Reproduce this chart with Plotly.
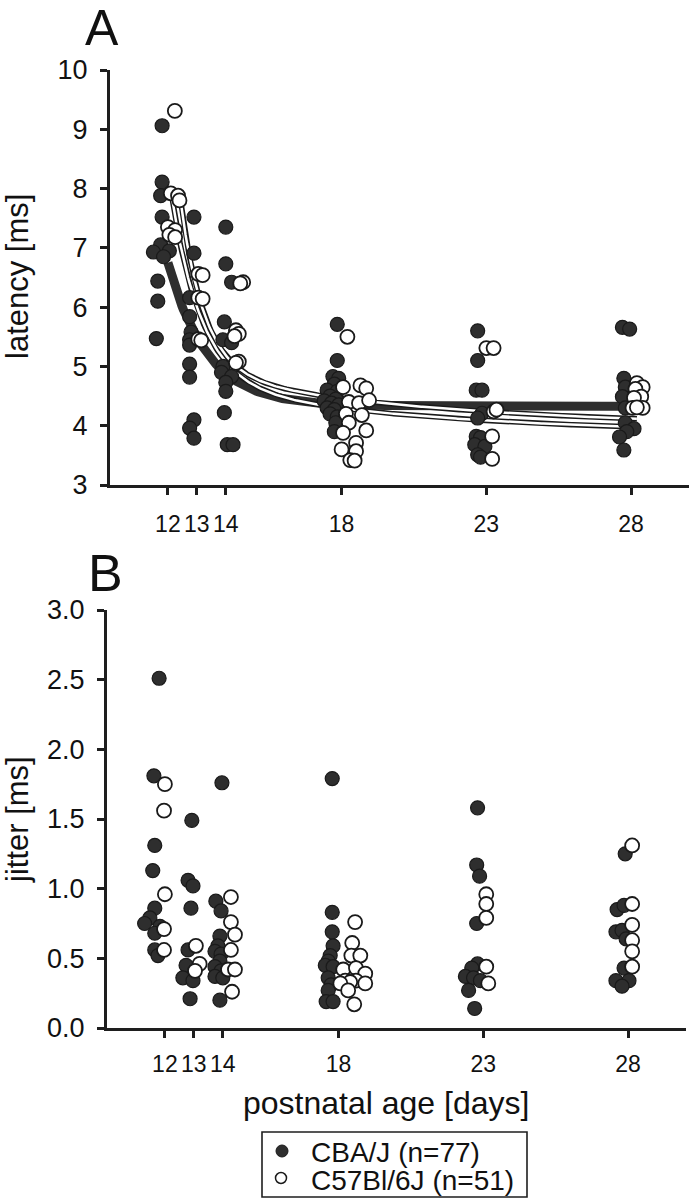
import numpy as np
import plotly.graph_objects as go

W, H = 691, 1199

# ---------------- data ----------------
# Panel A: latency [ms]; x = postnatal day (with horizontal jitter as drawn)
A_CBA_X = [11.8, 11.8, 11.75, 11.8, 11.75, 11.5, 12.05, 11.85, 11.65, 11.65, 11.6,
           12.9, 12.9, 12.75, 12.75, 12.8, 12.75, 12.75, 12.75, 12.75, 12.9, 12.75, 12.9,
           14.0, 14.0, 14.2, 13.95, 13.9, 14.2, 13.9, 13.85, 14.2, 14.0, 14.0, 13.95, 14.05, 14.25,
           17.85, 17.85, 17.7, 17.9, 17.75, 17.5, 17.85, 17.6, 17.8, 17.4, 17.65, 17.9, 17.5, 17.75, 17.6, 17.85, 17.8, 17.75,
           22.7, 22.7, 22.65, 22.85, 22.85, 22.7, 22.65, 22.8, 22.6, 22.95, 22.7, 22.8,
           27.7, 27.95, 27.75, 27.8, 27.7, 27.8, 27.8, 28.1, 27.85, 27.6, 27.75]
A_CBA_Y = [9.06, 8.11, 7.88, 7.52, 7.05, 6.93, 6.95, 6.85, 6.44, 6.10, 5.47,
           7.52, 6.91, 6.16, 5.84, 5.58, 5.45, 5.36, 5.04, 4.82, 4.10, 3.96, 3.79,
           7.35, 6.73, 6.42, 5.75, 5.45, 5.40, 5.00, 4.90, 4.83, 4.73, 4.58, 4.22, 3.68, 3.68,
           5.71, 5.10, 4.83, 4.80, 4.70, 4.60, 4.58, 4.50, 4.45, 4.42, 4.38, 4.35, 4.30, 4.27, 4.20, 4.15, 4.05, 3.90,
           5.60, 5.10, 4.60, 4.60, 4.21, 4.13, 3.82, 3.80, 3.68, 3.65, 3.51, 3.47,
           5.66, 5.63, 4.80, 4.65, 4.49, 4.30, 4.05, 3.95, 3.90, 3.81, 3.59]

A_C57_X = [12.24, 12.1, 12.35, 12.4, 12.0, 12.25, 12.05, 12.25,
           13.05, 13.2, 13.05, 13.2, 13.05, 13.15,
           14.6, 14.5, 14.35, 14.45, 14.3, 14.45, 14.35,
           18.2, 18.05, 18.65, 18.85, 18.25, 18.6, 18.95, 18.15, 18.7, 18.25, 18.85, 18.05, 18.5, 18.0, 18.5, 18.3, 18.45,
           23.0, 23.25, 23.25, 23.35, 23.2, 23.2,
           28.2, 28.4, 28.15, 28.35, 28.1, 28.05, 28.4, 28.2]
A_C57_Y = [9.31, 7.92, 7.88, 7.80, 7.35, 7.30, 7.22, 7.18,
           6.56, 6.54, 6.16, 6.14, 5.46, 5.44,
           6.42, 6.40, 5.61, 5.55, 5.51, 5.08, 5.06,
           5.50, 4.65, 4.68, 4.63, 4.40, 4.38, 4.43, 4.20, 4.18, 4.05, 3.92, 3.88, 3.71, 3.60, 3.57, 3.42, 3.41,
           5.31, 5.31, 4.24, 4.27, 3.82, 3.44,
           4.72, 4.65, 4.62, 4.49, 4.47, 4.30, 4.30, 4.31]

# Panel B: jitter [ms]
B_CBA_X = [11.8, 11.62, 11.65, 11.58, 11.65, 11.48, 11.3, 11.83, 11.65, 11.65, 11.76,
           12.93, 12.8, 12.97, 12.9, 12.8, 12.73, 12.62, 12.97, 12.87,
           13.97, 13.76, 13.94, 13.9, 13.83, 13.73, 13.94, 13.9, 13.73, 13.94, 13.73, 14.0, 13.9,
           17.78, 17.78, 17.78, 17.81, 17.71, 17.64, 17.54, 17.81, 17.64, 17.74, 17.64, 17.57, 17.81,
           22.8, 22.77, 22.87, 22.77, 22.8, 22.6, 22.38, 22.66, 22.9, 22.49, 22.7,
           27.9, 27.62, 27.86, 27.58, 27.79, 27.93, 27.86, 27.58, 28.03, 27.79]
B_CBA_Y = [2.51, 1.81, 1.31, 1.13, 0.86, 0.79, 0.75, 0.73, 0.68, 0.56, 0.52,
           1.49, 1.06, 1.02, 0.86, 0.56, 0.45, 0.36, 0.34, 0.21,
           1.76, 0.91, 0.84, 0.66, 0.59, 0.55, 0.53, 0.48, 0.44, 0.41, 0.37, 0.36, 0.20,
           1.79, 0.83, 0.69, 0.59, 0.52, 0.48, 0.45, 0.44, 0.36, 0.31, 0.27, 0.19, 0.19,
           1.58, 1.17, 1.09, 0.75, 0.46, 0.43, 0.37, 0.36, 0.34, 0.27, 0.14,
           1.25, 0.85, 0.88, 0.69, 0.70, 0.64, 0.43, 0.34, 0.34, 0.30]

B_C57_X = [12.0, 11.97, 12.0, 11.97, 11.97,
           13.07, 13.2, 13.04,
           14.28, 14.28, 14.42, 14.28, 14.18, 14.42, 14.32,
           18.57, 18.47, 18.44, 18.75, 18.16, 18.6, 18.92, 18.23, 18.6, 18.4, 18.06, 18.92, 18.33, 18.54,
           23.1, 23.1, 23.1, 23.1, 23.17,
           28.14, 28.14, 28.14, 28.14, 28.14, 28.14]
B_C57_Y = [1.75, 1.56, 0.96, 0.71, 0.56,
           0.59, 0.46, 0.41,
           0.94, 0.76, 0.67, 0.56, 0.42, 0.42, 0.26,
           0.76, 0.61, 0.52, 0.52, 0.42, 0.43, 0.39, 0.34, 0.34, 0.33, 0.32, 0.32, 0.27, 0.17,
           0.96, 0.89, 0.79, 0.44, 0.32,
           1.31, 0.89, 0.74, 0.63, 0.55, 0.44]

X_TICKS = [12, 13, 14, 18, 23, 28]
A_Y_TICKS = [3, 4, 5, 6, 7, 8, 9, 10]
B_Y_TICKS = [0.0, 0.5, 1.0, 1.5, 2.0, 2.5, 3.0]

LEGEND_NAMES = ["CBA/J (n=77)", "C57Bl/6J (n=51)"]

# exponential-decay fit parameters (latency vs age)
# y = a + b*exp(-(x-12)/t1) + c*exp(-(x-12)/t2), drawn from x0 to x1
FIT_CBA = dict(a=4.33, b=2.42, t1=1.35, c=0.0, t2=8.0, x0=12.0, x1=28.0)
FIT_C57_UP = dict(a=3.985, b=4.86, t1=0.82, c=1.0, t2=8.0, x0=12.4, x1=28.2)
FIT_C57_LO = dict(a=3.86, b=3.54, t1=1.04, c=0.9, t2=8.0, x0=12.1, x1=28.2)


def fit_curve(p):
    x = np.linspace(p["x0"], p["x1"], 300)
    y = p["a"] + p["b"] * np.exp(-(x - 12) / p["t1"]) + p["c"] * np.exp(-(x - 12) / p["t2"])
    return x, y


# ---------------- styles ----------------
DARK = "#2e2e2e"
EDGE = "#1a1a1a"
AX = "#1e1e1e"
FONT = "Liberation Sans, Arial, sans-serif"

fig = go.Figure()

# fit curves (panel A)
xc, yc = fit_curve(FIT_CBA)
fig.add_trace(go.Scatter(x=xc, y=yc, mode="lines", line=dict(color=DARK, width=9),
                         xaxis="x", yaxis="y", showlegend=False, hoverinfo="skip"))
for p in (FIT_C57_UP, FIT_C57_LO):
    xc, yc = fit_curve(p)
    fig.add_trace(go.Scatter(x=xc, y=yc, mode="lines", line=dict(color=EDGE, width=5.5),
                             xaxis="x", yaxis="y", showlegend=False, hoverinfo="skip"))
for p in (FIT_C57_UP, FIT_C57_LO):
    xc, yc = fit_curve(p)
    fig.add_trace(go.Scatter(x=xc, y=yc, mode="lines", line=dict(color="white", width=2.5),
                             xaxis="x", yaxis="y", showlegend=False, hoverinfo="skip"))

filled = dict(size=14, color=DARK, line=dict(color=EDGE, width=1.2))
opened = dict(size=14, color="white", line=dict(color=EDGE, width=1.8))

fig.add_trace(go.Scatter(x=A_CBA_X, y=A_CBA_Y, mode="markers", marker=filled,
                         xaxis="x", yaxis="y", name=LEGEND_NAMES[0], showlegend=False))
fig.add_trace(go.Scatter(x=A_C57_X, y=A_C57_Y, mode="markers", marker=opened,
                         xaxis="x", yaxis="y", name=LEGEND_NAMES[1], showlegend=False))
fig.add_trace(go.Scatter(x=B_CBA_X, y=B_CBA_Y, mode="markers", marker=filled,
                         xaxis="x2", yaxis="y2", name=LEGEND_NAMES[0], showlegend=False))
fig.add_trace(go.Scatter(x=B_C57_X, y=B_C57_Y, mode="markers", marker=opened,
                         xaxis="x2", yaxis="y2", name=LEGEND_NAMES[1], showlegend=False))


def px_x(p):
    return p / W


def px_y(p):
    return 1 - p / H


xcommon = dict(range=[10, 30], tickmode="array", tickvals=X_TICKS,
               ticktext=[str(t) for t in X_TICKS], tickangle=0, ticks="outside", ticklen=7,
               tickwidth=2.5, tickcolor=AX, showline=True, linewidth=3, linecolor=AX,
               showgrid=False, zeroline=False, automargin=False,
               tickfont=dict(family=FONT, size=23, color="#111"))
ycommon = dict(ticks="outside", ticklen=7, tickwidth=2.5, tickcolor=AX, showline=True,
               linewidth=3, linecolor=AX, showgrid=False, zeroline=False, automargin=False,
               ticklabelstandoff=7, tickfont=dict(family=FONT, size=27, color="#111"))

fig.update_layout(
    width=W, height=H, autosize=False,
    margin=dict(l=0, r=0, t=0, b=0, pad=0, autoexpand=False),
    paper_bgcolor="white", plot_bgcolor="white", showlegend=False,
    xaxis=dict(domain=[px_x(110), px_x(689)], anchor="y", ticklabelstandoff=9, **xcommon),
    yaxis=dict(domain=[px_y(485), px_y(70)], anchor="x", range=[3, 10],
               tickvals=A_Y_TICKS, **ycommon),
    xaxis2=dict(domain=[px_x(107), px_x(686)], anchor="y2", ticklabelstandoff=6, **xcommon),
    yaxis2=dict(domain=[px_y(1028), px_y(610)], anchor="x2", range=[0, 3],
                tickvals=B_Y_TICKS, tickformat=".1f", **ycommon),
)

ann = []
ann.append(dict(text="A", x=px_x(102), y=px_y(28), xref="paper", yref="paper",
                showarrow=False, font=dict(family=FONT, size=50, color="#111"),
                xanchor="center", yanchor="middle"))
ann.append(dict(text="B", x=px_x(105), y=px_y(573), xref="paper", yref="paper",
                showarrow=False, font=dict(family=FONT, size=52, color="#111"),
                xanchor="center", yanchor="middle"))
ann.append(dict(text="latency [ms]", x=px_x(17), y=px_y(277), xref="paper", yref="paper",
                showarrow=False, textangle=-90, font=dict(family=FONT, size=31, color="#111"),
                xanchor="center", yanchor="middle"))
ann.append(dict(text="jitter [ms]", x=px_x(17), y=px_y(820), xref="paper", yref="paper",
                showarrow=False, textangle=-90, font=dict(family=FONT, size=31, color="#111"),
                xanchor="center", yanchor="middle"))
ann.append(dict(text="postnatal age [days]", x=px_x(386), y=px_y(1103), xref="paper", yref="paper",
                showarrow=False, font=dict(family=FONT, size=32, color="#111"),
                xanchor="center", yanchor="middle"))
ann.append(dict(text=LEGEND_NAMES[0], x=px_x(309), y=px_y(1152), xref="paper", yref="paper",
                showarrow=False, font=dict(family=FONT, size=28, color="#111"),
                xanchor="left", yanchor="middle"))
ann.append(dict(text=LEGEND_NAMES[1], x=px_x(309), y=px_y(1180), xref="paper", yref="paper",
                showarrow=False, font=dict(family=FONT, size=28, color="#111"),
                xanchor="left", yanchor="middle"))
fig.update_layout(annotations=ann)

shapes = [
    dict(type="rect", xref="paper", yref="paper", x0=px_x(262), x1=px_x(527),
         y0=px_y(1197), y1=px_y(1132), line=dict(color=AX, width=1.6), fillcolor="rgba(0,0,0,0)"),
    dict(type="circle", xref="paper", yref="paper", xsizemode="pixel", ysizemode="pixel",
         xanchor=px_x(282), yanchor=px_y(1151), x0=-6, x1=6, y0=-6, y1=6,
         fillcolor=DARK, line=dict(color=EDGE, width=1)),
    dict(type="circle", xref="paper", yref="paper", xsizemode="pixel", ysizemode="pixel",
         xanchor=px_x(281), yanchor=px_y(1178), x0=-5.5, x1=5.5, y0=-5.5, y1=5.5,
         fillcolor="white", line=dict(color=EDGE, width=1.5)),
]
fig.update_layout(shapes=shapes)

fig.write_html("out.html", config={"displayModeBar": False},
               post_script="document.body.style.margin='0px';document.body.style.padding='0px';")
